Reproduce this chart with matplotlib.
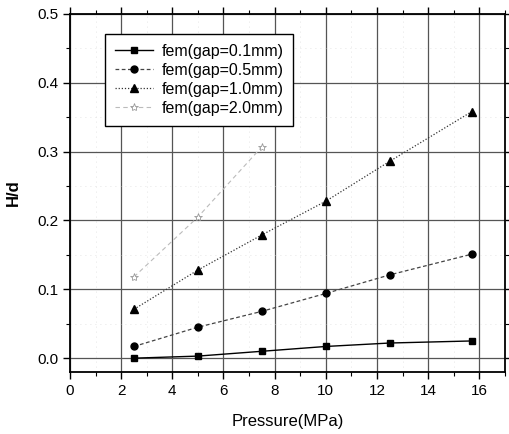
import numpy as np
import matplotlib.pyplot as plt
from matplotlib.ticker import MultipleLocator

plt.rcParams['font.family'] = ['Liberation Sans', 'DejaVu Sans']

pressure = [2.5, 5.0, 7.5, 10.0, 12.5, 15.7]
gap01 = [0.0, 0.003, 0.010, 0.017, 0.022, 0.025]
gap05 = [0.017, 0.045, 0.068, 0.094, 0.121, 0.151]
gap10 = [0.071, 0.128, 0.179, 0.228, 0.286, 0.358]
pressure20 = [2.5, 5.0, 7.5]
gap20 = [0.118, 0.205, 0.307]

fig = plt.figure(figsize=(5.09, 4.34), dpi=100)
ax = fig.add_axes([0.1375, 0.143, 0.8545, 0.825])

ax.plot(pressure, gap01, '-', color='black', lw=1.0, marker='s', ms=5,
        label='fem(gap=0.1mm)')
ax.plot(pressure, gap05, color='#444444', lw=0.9, ls=(0, (3, 2)), marker='o', ms=5,
        mfc='black', mec='black', label='fem(gap=0.5mm)')
ax.plot(pressure, gap10, color='#333333', lw=0.9, ls=(0, (1, 1.5)), marker='^', ms=6,
        mfc='black', mec='black', label='fem(gap=1.0mm)')
ax.plot(pressure20, gap20, color='#bbbbbb', lw=0.8, ls=(0, (4, 3)), marker='*', ms=6,
        mfc='white', mec='#999999', mew=0.6, label='fem(gap=2.0mm)')

ax.set_xlim(0, 17)
ax.set_ylim(-0.02, 0.5)
ax.xaxis.set_major_locator(MultipleLocator(2))
ax.xaxis.set_minor_locator(MultipleLocator(1))
ax.yaxis.set_major_locator(MultipleLocator(0.1))
ax.yaxis.set_minor_locator(MultipleLocator(0.05))
ax.yaxis.set_major_formatter(plt.FormatStrFormatter('%.1f'))

ax.grid(True, which='major', color='#555555', lw=0.9)
ax.grid(True, which='minor', color='#dddddd', lw=0.6, ls=(0, (1, 5)))
ax.set_axisbelow(True)

ax.tick_params(which='major', direction='out', length=5, width=1, labelsize=11,
               top=True, right=True)
ax.tick_params(which='minor', direction='out', length=3, width=0.8, top=True, right=True)
for s in ax.spines.values():
    s.set_linewidth(1.3)

ax.set_xlabel('Pressure(MPa)', fontsize=12, labelpad=12)
ax.set_ylabel('H/d', fontsize=12, fontweight='bold', labelpad=12)

leg = ax.legend(loc='upper left', bbox_to_anchor=(0.063, 0.965), fontsize=11.5,
                frameon=True, fancybox=False, edgecolor='black', framealpha=1,
                handlelength=2.4, borderpad=0.6, labelspacing=0.25, handletextpad=0.5)
leg.get_frame().set_linewidth(1.0)

fig.savefig('out.png', dpi=100)
